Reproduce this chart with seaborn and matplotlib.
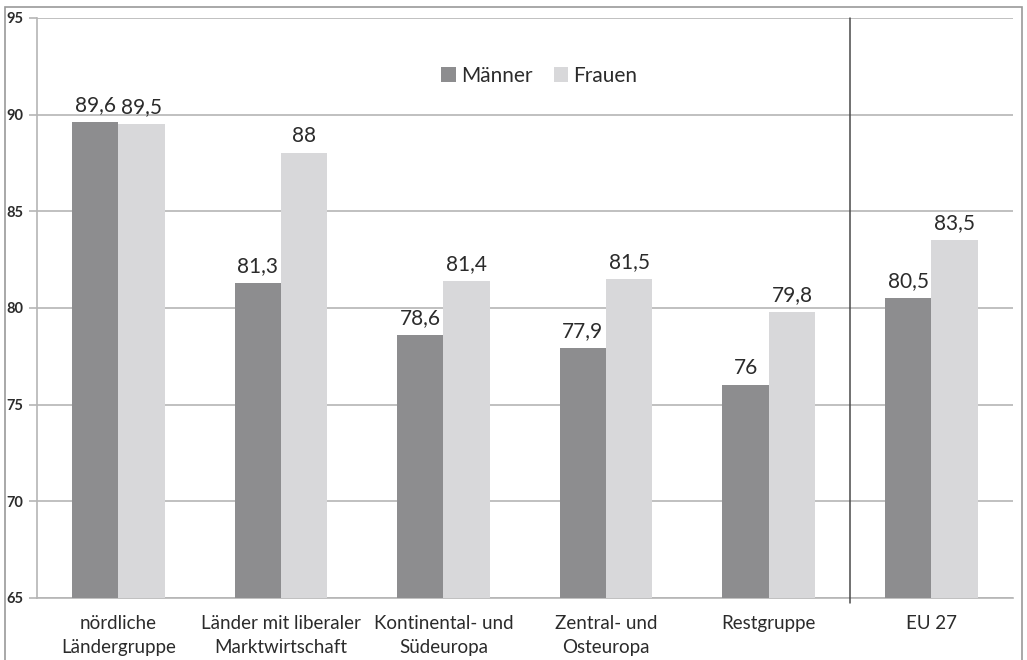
import matplotlib
matplotlib.use("Agg")
import matplotlib.pyplot as plt
from matplotlib.patches import Rectangle
import seaborn as sns
import pandas as pd

# Data
categories = ["nördliche\nLändergruppe", "Länder mit liberaler\nMarktwirtschaft",
              "Kontinental- und\nSüdeuropa", "Zentral- und\nOsteuropa",
              "Restgruppe", "EU 27"]
maenner = [89.6, 81.3, 78.6, 77.9, 76.0, 80.5]
frauen = [89.5, 88.0, 81.4, 81.5, 79.8, 83.5]
series = ["Männer", "Frauen"]
y_ticks = [65, 70, 75, 80, 85, 90, 95]

df = pd.DataFrame({
    "Gruppe": categories * 2,
    "Geschlecht": [series[0]] * len(categories) + [series[1]] * len(categories),
    "Wert": maenner + frauen,
})

sns.set_theme(style="white")
plt.rcParams["font.family"] = ["Lato", "DejaVu Sans"]

colors = {"Männer": "#8d8d8f", "Frauen": "#d8d8da"}
text_col = "#2b2b2b"
grid_col = "#b5b5b5"

fig = plt.figure(figsize=(10.27, 6.6), dpi=100)
ax = fig.add_axes([0.036, 0.094, 0.950, 0.879])

sns.barplot(data=df, x="Gruppe", y="Wert", hue="Geschlecht", order=categories,
            hue_order=series, palette=colors, width=0.57, saturation=1,
            edgecolor="none", linewidth=0, ax=ax, zorder=3)

ax.set_ylim(65, 95)
ax.set_xlim(-0.5, len(categories) - 0.5)
ax.set_yticks(y_ticks)
ax.set_yticklabels([str(t) for t in y_ticks], fontsize=10.5, fontweight="bold",
                   color=text_col)
ax.yaxis.grid(True, color=grid_col, linewidth=1.2, zorder=0)
ax.set_axisbelow(True)

# category labels at centres, tick marks at category boundaries
ax.set_xticks(range(len(categories)))
ax.set_xticklabels(categories, fontsize=13.5, color=text_col, linespacing=1.5)
ax.set_xticks([i - 0.5 for i in range(len(categories) + 1)], minor=True)
ax.tick_params(axis="x", which="major", length=0, pad=12)
ax.tick_params(axis="x", which="minor", length=5, color=grid_col, width=1.2,
               direction="out")
ax.tick_params(axis="y", which="major", length=6, color=grid_col, width=1.2,
               direction="out", pad=4, left=True)
ax.set_xlabel("")
ax.set_ylabel("")

for side in ["top", "right"]:
    ax.spines[side].set_visible(False)
for side in ["left", "bottom"]:
    ax.spines[side].set_color(grid_col)
    ax.spines[side].set_linewidth(1.2)

# value labels
for cont in ax.containers:
    labels = [f"{b.get_height():g}".replace(".", ",") for b in cont]
    ax.bar_label(cont, labels=labels, padding=5, fontsize=15, color=text_col)

# separator before the EU 27 group
ax.plot([4.5, 4.5], [64.75, 95], color="#4a4a4a", linewidth=1.1, zorder=4,
        clip_on=False)

leg = ax.legend(loc="upper center", bbox_to_anchor=(0.515, 0.95), ncol=2,
                frameon=False, fontsize=15, handlelength=0.7,
                handleheight=0.7, handletextpad=0.25, columnspacing=1.0)
for t in leg.get_texts():
    t.set_color(text_col)

# outer frame
fig.patches.append(Rectangle((0.005, -0.01), 0.990, 0.999, transform=fig.transFigure,
                             fill=False, edgecolor="#9a9a9a", linewidth=1.2))

fig.savefig("out.png", dpi=100, facecolor="white")
